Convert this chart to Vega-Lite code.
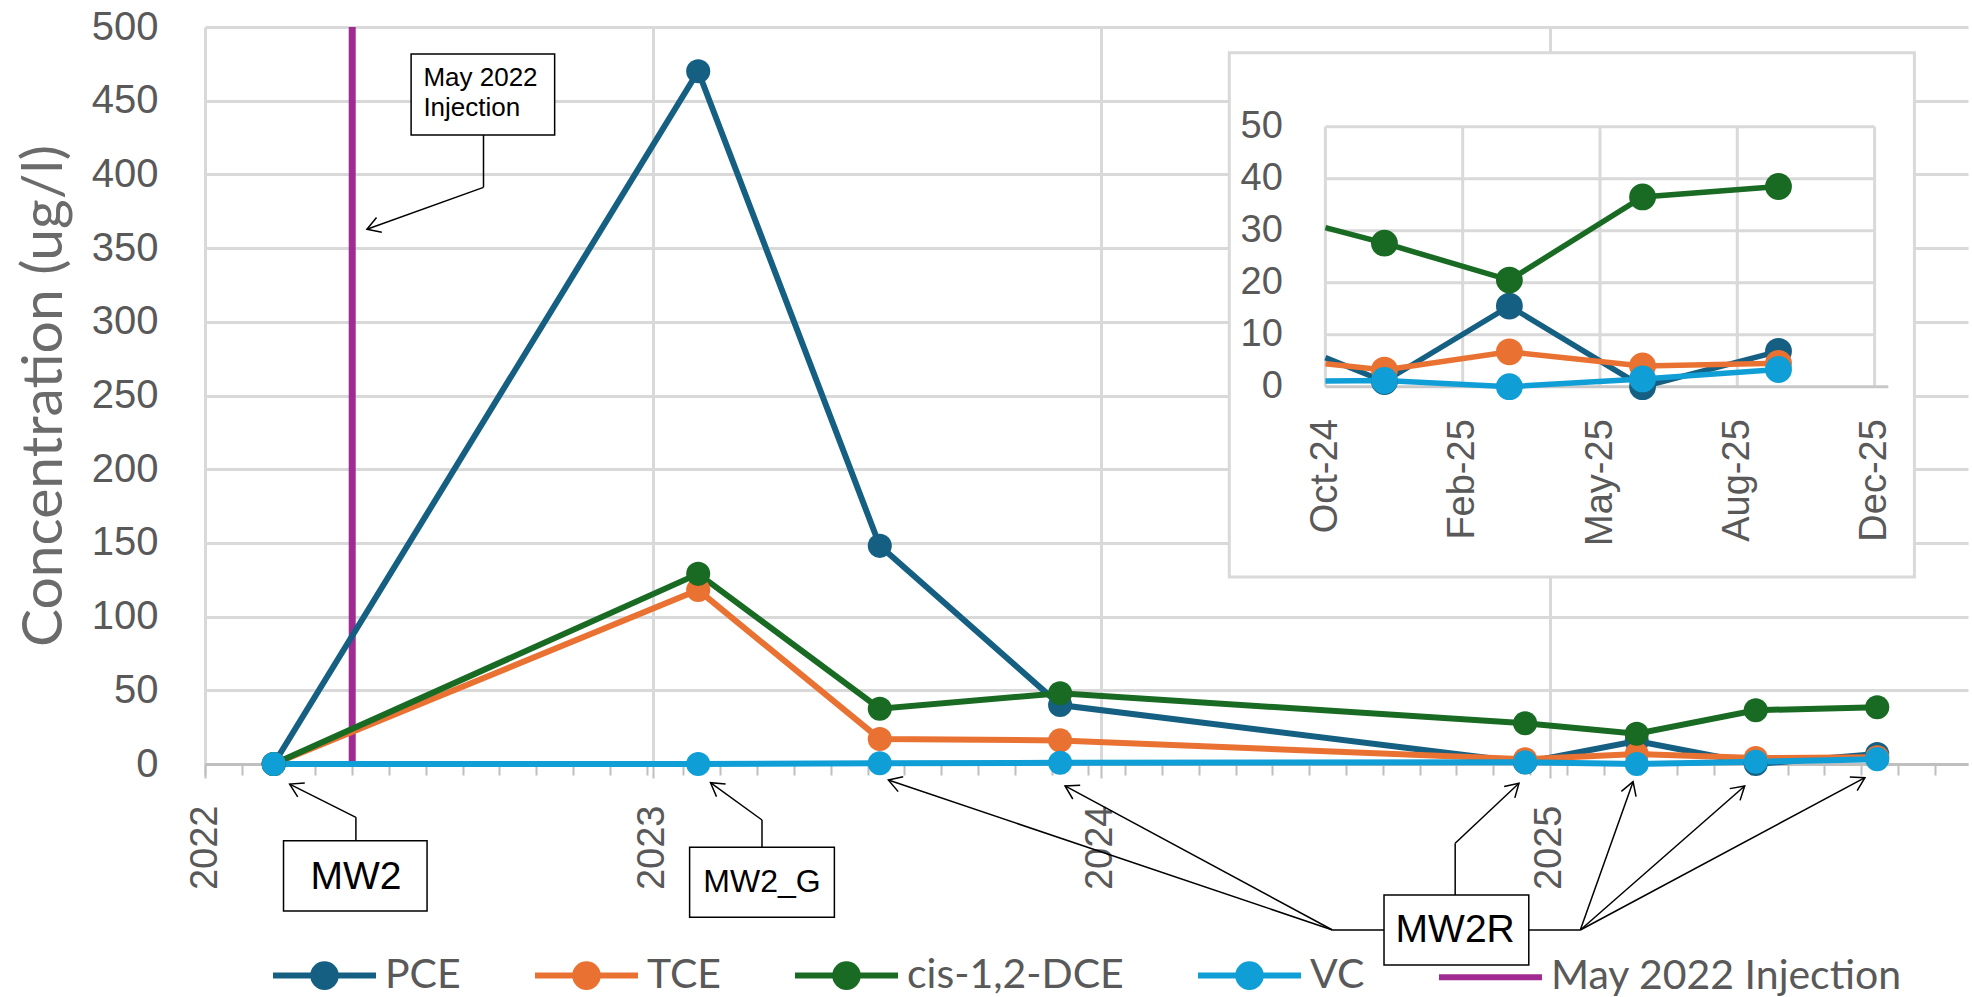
{
  "$schema": "https://vega.github.io/schema/vega-lite/v6.json",
  "width": 1763,
  "height": 737,
  "autosize": {"type": "none"},
  "padding": {"left": 205, "top": 27, "right": 4, "bottom": 233},
  "background": "#ffffff",
  "config": {"view": {"stroke": null}, "font": "Liberation Sans"},
  "datasets": {
    "samples": [
      {"date": "2022-02-26", "compound": "PCE", "value": 0, "kind": "sample"},
      {"date": "2022-02-26", "compound": "TCE", "value": 0, "kind": "sample"},
      {"date": "2022-02-26", "compound": "cis-1,2-DCE", "value": 0, "kind": "sample"},
      {"date": "2022-02-26", "compound": "VC", "value": 0, "kind": "sample"},
      {"date": "2023-02-07", "compound": "PCE", "value": 470, "kind": "sample"},
      {"date": "2023-02-07", "compound": "TCE", "value": 118, "kind": "sample"},
      {"date": "2023-02-07", "compound": "cis-1,2-DCE", "value": 129, "kind": "sample"},
      {"date": "2023-02-07", "compound": "VC", "value": 0, "kind": "sample"},
      {"date": "2023-07-05", "compound": "PCE", "value": 148, "kind": "sample"},
      {"date": "2023-07-05", "compound": "TCE", "value": 17, "kind": "sample"},
      {"date": "2023-07-05", "compound": "cis-1,2-DCE", "value": 37.5, "kind": "sample"},
      {"date": "2023-07-05", "compound": "VC", "value": 0.5, "kind": "sample"},
      {"date": "2023-11-29", "compound": "PCE", "value": 40, "kind": "sample"},
      {"date": "2023-11-29", "compound": "TCE", "value": 16, "kind": "sample"},
      {"date": "2023-11-29", "compound": "cis-1,2-DCE", "value": 48, "kind": "sample"},
      {"date": "2023-11-29", "compound": "VC", "value": 0.8, "kind": "sample"},
      {"date": "2024-10-30", "compound": "PCE", "value": 5.6, "kind": "edge"},
      {"date": "2024-10-30", "compound": "TCE", "value": 4.4, "kind": "edge"},
      {"date": "2024-10-30", "compound": "cis-1,2-DCE", "value": 30.6, "kind": "edge"},
      {"date": "2024-10-30", "compound": "VC", "value": 1.1, "kind": "edge"},
      {"date": "2024-12-12", "compound": "PCE", "value": 1, "kind": "sample"},
      {"date": "2024-12-12", "compound": "TCE", "value": 3.2, "kind": "sample"},
      {"date": "2024-12-12", "compound": "cis-1,2-DCE", "value": 27.6, "kind": "sample"},
      {"date": "2024-12-12", "compound": "VC", "value": 1.2, "kind": "sample"},
      {"date": "2025-03-13", "compound": "PCE", "value": 15.5, "kind": "sample"},
      {"date": "2025-03-13", "compound": "TCE", "value": 6.7, "kind": "sample"},
      {"date": "2025-03-13", "compound": "cis-1,2-DCE", "value": 20.5, "kind": "sample"},
      {"date": "2025-03-13", "compound": "VC", "value": 0, "kind": "sample"},
      {"date": "2025-06-18", "compound": "PCE", "value": 0, "kind": "sample"},
      {"date": "2025-06-18", "compound": "TCE", "value": 4, "kind": "sample"},
      {"date": "2025-06-18", "compound": "cis-1,2-DCE", "value": 36.5, "kind": "sample"},
      {"date": "2025-06-18", "compound": "VC", "value": 1.5, "kind": "sample"},
      {"date": "2025-09-25", "compound": "PCE", "value": 6.8, "kind": "sample"},
      {"date": "2025-09-25", "compound": "TCE", "value": 4.5, "kind": "sample"},
      {"date": "2025-09-25", "compound": "cis-1,2-DCE", "value": 38.5, "kind": "sample"},
      {"date": "2025-09-25", "compound": "VC", "value": 3.3, "kind": "sample"}
    ],
    "injection": [{"date": "2022-05-01", "compound": "May 2022 Injection"}],
    "segments": [
      {"x": "2022-08-16", "y": 426.7, "x2": "2022-08-16", "y2": 391.2},
      {"x": "2022-08-16", "y": 391.2, "x2": "2022-05-13", "y2": 362.8},
      {"x": "2022-05-04", "y": -52.0, "x2": "2022-05-04", "y2": -36.2},
      {"x": "2022-05-04", "y": -36.2, "x2": "2022-03-11", "y2": -13.6},
      {"x": "2023-03-31", "y": -56.5, "x2": "2023-03-31", "y2": -38.0},
      {"x": "2023-03-31", "y": -38.0, "x2": "2023-02-17", "y2": -12.7},
      {"x": "2024-08-19", "y": -112.6, "x2": "2024-07-08", "y2": -112.6},
      {"x": "2024-07-08", "y": -112.6, "x2": "2023-07-12", "y2": -10.9},
      {"x": "2024-07-08", "y": -112.6, "x2": "2023-12-03", "y2": -14.9},
      {"x": "2024-10-16", "y": -88.9, "x2": "2024-10-16", "y2": -53.8},
      {"x": "2024-10-16", "y": -53.8, "x2": "2024-12-07", "y2": -13.1},
      {"x": "2024-12-15", "y": -112.6, "x2": "2025-01-26", "y2": -112.6},
      {"x": "2025-01-26", "y": -112.6, "x2": "2025-03-10", "y2": -12.0},
      {"x": "2025-01-26", "y": -112.6, "x2": "2025-06-09", "y2": -14.9},
      {"x": "2025-01-26", "y": -112.6, "x2": "2025-09-15", "y2": -9.3}
    ],
    "arrowheads": [
      {"x": "2022-05-13", "y": 362.8, "angle": 160.2},
      {"x": "2022-03-11", "y": -13.6, "angle": -153.1},
      {"x": "2023-02-17", "y": -12.7, "angle": -144.5},
      {"x": "2023-07-12", "y": -10.9, "angle": -161.3},
      {"x": "2023-12-03", "y": -14.9, "angle": -151.7},
      {"x": "2024-12-07", "y": -13.1, "angle": -43.2},
      {"x": "2025-03-10", "y": -12.0, "angle": -70.4},
      {"x": "2025-06-09", "y": -14.9, "angle": -41.1},
      {"x": "2025-09-15", "y": -9.3, "angle": -28.2}
    ],
    "boxes": [
      {"label": "May 2022\nInjection", "x": "2022-06-18", "x2": "2022-10-13", "y": 481.7, "y2": 426.7, "tx": "2022-06-28", "ty": 465.4},
      {"label": "MW2", "x": "2022-03-06", "x2": "2022-07-01", "y": -52.0, "y2": -99.7, "tx": "2022-05-04", "ty": -76.5},
      {"label": "MW2_G", "x": "2023-01-31", "x2": "2023-05-29", "y": -56.5, "y2": -104.0, "tx": "2023-03-31", "ty": -80.1},
      {"label": "MW2R", "x": "2024-08-19", "x2": "2024-12-15", "y": -88.9, "y2": -136.4, "tx": "2024-10-16", "ty": -112.6}
    ],
    "insetTicks": [
      {"date": "2024-10-30"}, {"date": "2025-02-07"}, {"date": "2025-05-18"}, {"date": "2025-08-26"}, {"date": "2025-12-04"}
    ],
    "insetLevels": [
      {"level": 10}, {"level": 20}, {"level": 30}, {"level": 40}, {"level": 50}
    ]
  },
  "layer": [
    {
      "data": {"name": "injection"},
      "mark": {"type": "rule", "strokeWidth": 7},
      "encoding": {
        "x": {
          "field": "date", "type": "temporal",
          "scale": {"type": "utc", "domain": [{"year": 2022, "month": 1, "date": 1, "utc": true}, {"year": 2025, "month": 12, "date": 8, "utc": true}], "nice": false},
          "axis": {"orient": "bottom", "title": null, "values": {"expr": "sequence(1640995200000, 1765152000000, 2592000000)"}, "labels": false, "domain": false, "grid": false, "ticks": true, "tickSize": 11, "tickColor": "#bfbfbf", "tickWidth": 2}
        },
        "color": {
          "field": "compound", "type": "nominal",
          "scale": {"domain": ["PCE", "TCE", "cis-1,2-DCE", "VC", "May 2022 Injection"], "range": ["#156082", "#E97132", "#196B24", "#0F9ED5", "#A02B93"]},
          "legend": {
            "orient": "none", "legendX": 65, "legendY": 894, "direction": "horizontal", "title": null,
            "padding": 0, "labelFontSize": 41, "labelColor": "#595959", "labelFont": "Lato", "labelLimit": 700,
            "labelOffset": 6, "columnPadding": 62, "symbolSize": 10609, "symbolStrokeWidth": 6,
            "symbolType": "M-1,0L1,0M-0.2,0A0.2,0.2,0,1,0,0.2,0A0.2,0.2,0,1,0,-0.2,0Z",
            "encode": {"symbols": {"update": {
              "shape": {"signal": "datum.value === 'May 2022 Injection' ? 'M-1,0L1,0' : 'M-1,0L1,0M-0.22,0A0.22,0.22,0,1,0,0.22,0A0.22,0.22,0,1,0,-0.22,0Z'"},
              "fill": {"scale": "color", "field": "value"},
              "stroke": {"scale": "color", "field": "value"},
              "strokeWidth": {"value": 6},
              "opacity": {"value": 1},
              "size": {"value": 10609}
            }}}
          }
        }
      }
    },
    {
      "data": {"name": "samples"},
      "transform": [{"filter": {"field": "kind", "equal": "sample"}}],
      "mark": {"type": "line", "strokeWidth": 6},
      "encoding": {
        "x": {
          "field": "date", "type": "temporal",
          "scale": {"type": "utc", "domain": [{"year": 2022, "month": 1, "date": 1, "utc": true}, {"year": 2025, "month": 12, "date": 8, "utc": true}], "nice": false},
          "axis": {
            "orient": "bottom", "title": null,
            "values": [{"year": 2022, "month": 1, "date": 1, "utc": true}, {"year": 2023, "month": 1, "date": 1, "utc": true}, {"year": 2024, "month": 1, "date": 1, "utc": true}, {"year": 2025, "month": 1, "date": 1, "utc": true}],
            "format": "%Y", "labelAngle": -90, "labelFontSize": 38, "labelColor": "#595959", "labelPadding": 27,
            "labelOverlap": false, "labelFlush": false, "tickSize": 14, "tickColor": "#bfbfbf", "tickWidth": 2,
            "domainColor": "#bfbfbf", "domainWidth": 3, "grid": true, "gridColor": "#d9d9d9", "gridWidth": 3
          }
        },
        "y": {
          "field": "value", "type": "quantitative",
          "scale": {"domain": [0, 500], "nice": false, "zero": false},
          "axis": {
            "orient": "left", "title": "Concentration (ug/l)", "titleFont": "Lato", "titleFontSize": 57, "titleFontWeight": "normal", "titleColor": "#6b6b6b", "titlePadding": 18,
            "values": [0, 50, 100, 150, 200, 250, 300, 350, 400, 450, 500],
            "labelFontSize": 40, "labelColor": "#595959", "labelPadding": 47, "ticks": false, "tickSize": 0, "domain": false,
            "grid": true, "gridColor": "#d9d9d9", "gridWidth": 3
          }
        },
        "color": {"field": "compound", "type": "nominal", "scale": {"domain": ["PCE", "TCE", "cis-1,2-DCE", "VC", "May 2022 Injection"], "range": ["#156082", "#E97132", "#196B24", "#0F9ED5", "#A02B93"]}}
      }
    },
    {
      "data": {"name": "samples"},
      "transform": [{"filter": {"field": "kind", "equal": "sample"}}],
      "mark": {"type": "point", "filled": true, "opacity": 1, "size": 580, "strokeWidth": 0},
      "encoding": {
        "x": {"field": "date", "type": "temporal", "scale": {"type": "utc", "domain": [{"year": 2022, "month": 1, "date": 1, "utc": true}, {"year": 2025, "month": 12, "date": 8, "utc": true}], "nice": false}, "axis": null},
        "y": {"field": "value", "type": "quantitative", "scale": {"domain": [0, 500], "nice": false, "zero": false}, "axis": null},
        "color": {"field": "compound", "type": "nominal", "scale": {"domain": ["PCE", "TCE", "cis-1,2-DCE", "VC", "May 2022 Injection"], "range": ["#156082", "#E97132", "#196B24", "#0F9ED5", "#A02B93"]}}
      }
    },
    {
      "data": {"name": "segments"},
      "mark": {"type": "rule", "color": "#000000", "strokeWidth": 1.5},
      "encoding": {
        "x": {"field": "x", "type": "temporal", "scale": {"type": "utc", "domain": [{"year": 2022, "month": 1, "date": 1, "utc": true}, {"year": 2025, "month": 12, "date": 8, "utc": true}], "nice": false}, "axis": null},
        "x2": {"field": "x2"},
        "y": {"field": "y", "type": "quantitative", "scale": {"domain": [0, 500], "nice": false, "zero": false}, "axis": null},
        "y2": {"field": "y2"}
      }
    },
    {
      "data": {"name": "arrowheads"},
      "mark": {"type": "point", "shape": "M-1,-0.6L0,0L-1,0.6", "filled": false, "stroke": "#000000", "strokeWidth": 1.5, "size": 676, "opacity": 1},
      "encoding": {
        "x": {"field": "x", "type": "temporal", "scale": {"type": "utc", "domain": [{"year": 2022, "month": 1, "date": 1, "utc": true}, {"year": 2025, "month": 12, "date": 8, "utc": true}], "nice": false}, "axis": null},
        "y": {"field": "y", "type": "quantitative", "scale": {"domain": [0, 500], "nice": false, "zero": false}, "axis": null},
        "angle": {"field": "angle", "type": "quantitative", "scale": null}
      }
    },
    {
      "data": {"name": "boxes"},
      "mark": {"type": "rect", "fill": "#ffffff", "stroke": "#000000", "strokeWidth": 1.5},
      "encoding": {
        "x": {"field": "x", "type": "temporal", "scale": {"type": "utc", "domain": [{"year": 2022, "month": 1, "date": 1, "utc": true}, {"year": 2025, "month": 12, "date": 8, "utc": true}], "nice": false}, "axis": null},
        "x2": {"field": "x2"},
        "y": {"field": "y", "type": "quantitative", "scale": {"domain": [0, 500], "nice": false, "zero": false}, "axis": null},
        "y2": {"field": "y2"}
      }
    },
    {
      "data": {"name": "boxes"},
      "transform": [{"filter": {"field": "label", "equal": "May 2022\nInjection"}}],
      "mark": {"type": "text", "align": "left", "baseline": "middle", "fontSize": 26, "lineHeight": 30, "lineBreak": "\n", "color": "#000000"},
      "encoding": {
        "x": {"field": "tx", "type": "temporal", "scale": {"type": "utc", "domain": [{"year": 2022, "month": 1, "date": 1, "utc": true}, {"year": 2025, "month": 12, "date": 8, "utc": true}], "nice": false}, "axis": null},
        "y": {"field": "ty", "type": "quantitative", "scale": {"domain": [0, 500], "nice": false, "zero": false}, "axis": null},
        "text": {"field": "label"}
      }
    },
    {
      "data": {"name": "boxes"},
      "transform": [{"filter": {"field": "label", "oneOf": ["MW2", "MW2R"]}}],
      "mark": {"type": "text", "align": "center", "baseline": "middle", "fontSize": 39, "color": "#000000"},
      "encoding": {
        "x": {"field": "tx", "type": "temporal", "scale": {"type": "utc", "domain": [{"year": 2022, "month": 1, "date": 1, "utc": true}, {"year": 2025, "month": 12, "date": 8, "utc": true}], "nice": false}, "axis": null},
        "y": {"field": "ty", "type": "quantitative", "scale": {"domain": [0, 500], "nice": false, "zero": false}, "axis": null},
        "text": {"field": "label"}
      }
    },
    {
      "data": {"name": "boxes"},
      "transform": [{"filter": {"field": "label", "equal": "MW2_G"}}],
      "mark": {"type": "text", "align": "center", "baseline": "middle", "fontSize": 32, "color": "#000000"},
      "encoding": {
        "x": {"field": "tx", "type": "temporal", "scale": {"type": "utc", "domain": [{"year": 2022, "month": 1, "date": 1, "utc": true}, {"year": 2025, "month": 12, "date": 8, "utc": true}], "nice": false}, "axis": null},
        "y": {"field": "ty", "type": "quantitative", "scale": {"domain": [0, 500], "nice": false, "zero": false}, "axis": null},
        "text": {"field": "label"}
      }
    },
    {
      "data": {"values": [{}]},
      "mark": {"type": "rect", "fill": "#ffffff", "stroke": "#d9d9d9", "strokeWidth": 3},
      "encoding": {
        "x": {"datum": {"year": 2024, "month": 8, "date": 21, "utc": true}, "type": "temporal", "scale": {"type": "utc", "domain": [{"year": 2024, "month": 10, "date": 30, "utc": true}, {"year": 2025, "month": 12, "date": 4, "utc": true}], "range": [1120.4, 1669.6], "nice": false}, "axis": null},
        "x2": {"datum": {"year": 2026, "month": 1, "date": 2, "utc": true}},
        "y": {"datum": -36.6, "type": "quantitative", "scale": {"domain": [0, 50], "range": [359.7, 99.7], "nice": false, "zero": false}, "axis": null},
        "y2": {"datum": 64.2}
      }
    },
    {
      "data": {"name": "insetTicks"},
      "mark": {"type": "rule", "color": "#d9d9d9", "strokeWidth": 3},
      "encoding": {
        "x": {"field": "date", "type": "temporal", "scale": {"type": "utc", "domain": [{"year": 2024, "month": 10, "date": 30, "utc": true}, {"year": 2025, "month": 12, "date": 4, "utc": true}], "range": [1120.4, 1669.6], "nice": false}, "axis": null},
        "y": {"datum": 0, "type": "quantitative", "scale": {"domain": [0, 50], "range": [359.7, 99.7], "nice": false, "zero": false}, "axis": null},
        "y2": {"datum": 50}
      }
    },
    {
      "data": {"name": "insetLevels"},
      "mark": {"type": "rule", "color": "#d9d9d9", "strokeWidth": 3},
      "encoding": {
        "x": {"datum": {"year": 2024, "month": 10, "date": 30, "utc": true}, "type": "temporal", "scale": {"type": "utc", "domain": [{"year": 2024, "month": 10, "date": 30, "utc": true}, {"year": 2025, "month": 12, "date": 4, "utc": true}], "range": [1120.4, 1669.6], "nice": false}, "axis": null},
        "x2": {"datum": {"year": 2025, "month": 12, "date": 4, "utc": true}},
        "y": {"field": "level", "type": "quantitative", "scale": {"domain": [0, 50], "range": [359.7, 99.7], "nice": false, "zero": false}, "axis": null}
      }
    },
    {
      "data": {"values": [{}]},
      "mark": {"type": "rule", "color": "#c8c8c8", "strokeWidth": 3},
      "encoding": {
        "x": {"datum": {"year": 2024, "month": 10, "date": 30, "utc": true}, "type": "temporal", "scale": {"type": "utc", "domain": [{"year": 2024, "month": 10, "date": 30, "utc": true}, {"year": 2025, "month": 12, "date": 4, "utc": true}], "range": [1120.4, 1669.6], "nice": false}, "axis": null},
        "x2": {"datum": {"year": 2025, "month": 12, "date": 14, "utc": true}},
        "y": {"datum": 0, "type": "quantitative", "scale": {"domain": [0, 50], "range": [359.7, 99.7], "nice": false, "zero": false}, "axis": null}
      }
    },
    {
      "data": {"name": "samples"},
      "transform": [{"filter": {"field": "date", "gte": {"year": 2024, "month": 10, "date": 30, "utc": true}}}],
      "mark": {"type": "line", "strokeWidth": 5.5},
      "encoding": {
        "x": {
          "field": "date", "type": "temporal",
          "scale": {"type": "utc", "domain": [{"year": 2024, "month": 10, "date": 30, "utc": true}, {"year": 2025, "month": 12, "date": 4, "utc": true}], "range": [1120.4, 1669.6], "nice": false},
          "axis": {
            "orient": "bottom", "offset": -377.3, "title": null, "zindex": 1,
            "values": [{"year": 2024, "month": 10, "date": 30, "utc": true}, {"year": 2025, "month": 2, "date": 7, "utc": true}, {"year": 2025, "month": 5, "date": 18, "utc": true}, {"year": 2025, "month": 8, "date": 26, "utc": true}, {"year": 2025, "month": 12, "date": 4, "utc": true}],
            "format": "%b-%y", "labelAngle": -90, "labelFontSize": 38, "labelColor": "#595959", "labelPadding": 32,
            "labelOverlap": false, "labelFlush": false, "ticks": false, "tickSize": 0, "domain": false, "grid": false
          }
        },
        "y": {
          "field": "value", "type": "quantitative",
          "scale": {"domain": [0, 50], "range": [359.7, 99.7], "nice": false, "zero": false},
          "axis": {
            "orient": "left", "offset": -1120.4, "title": null, "zindex": 1,
            "values": [0, 10, 20, 30, 40, 50], "labelFontSize": 38, "labelColor": "#595959", "labelPadding": 43,
            "ticks": false, "tickSize": 0, "domain": false, "grid": false
          }
        },
        "color": {"field": "compound", "type": "nominal", "scale": {"domain": ["PCE", "TCE", "cis-1,2-DCE", "VC", "May 2022 Injection"], "range": ["#156082", "#E97132", "#196B24", "#0F9ED5", "#A02B93"]}}
      }
    },
    {
      "data": {"name": "samples"},
      "transform": [{"filter": {"field": "kind", "equal": "sample"}}, {"filter": {"field": "date", "gte": {"year": 2024, "month": 10, "date": 30, "utc": true}}}],
      "mark": {"type": "point", "filled": true, "opacity": 1, "size": 720, "strokeWidth": 0},
      "encoding": {
        "x": {"field": "date", "type": "temporal", "scale": {"type": "utc", "domain": [{"year": 2024, "month": 10, "date": 30, "utc": true}, {"year": 2025, "month": 12, "date": 4, "utc": true}], "range": [1120.4, 1669.6], "nice": false}, "axis": null},
        "y": {"field": "value", "type": "quantitative", "scale": {"domain": [0, 50], "range": [359.7, 99.7], "nice": false, "zero": false}, "axis": null},
        "color": {"field": "compound", "type": "nominal", "scale": {"domain": ["PCE", "TCE", "cis-1,2-DCE", "VC", "May 2022 Injection"], "range": ["#156082", "#E97132", "#196B24", "#0F9ED5", "#A02B93"]}}
      }
    }
  ],
  "resolve": {"scale": {"x": "independent", "y": "independent"}}
}
